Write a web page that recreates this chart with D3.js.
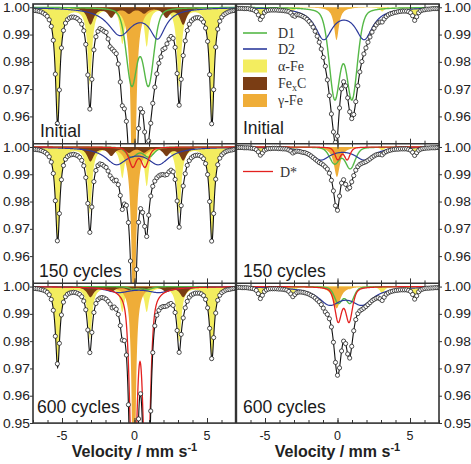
<!DOCTYPE html>
<html><head><meta charset="utf-8">
<script src="https://cdn.jsdelivr.net/npm/d3@7"></script>
<style>body{margin:0;background:#fff}svg{display:block}</style>
</head><body><svg id="c" width="471" height="464"></svg>
<script>
// ===== data =====
// panels: 0 Initial(left) 1 Initial(right) 2 150 cycles(left) 3 150 cycles(right) 4 600 cycles(left) 5 600 cycles(right)
const panelLabels = ["Initial","Initial","150 cycles","150 cycles","600 cycles","600 cycles"];
const velocityTicks = [-5,0,5];
const velocityMinor = [-7,-6,-5,-4,-3,-2,-1,0,1,2,3,4,5,6,7];
const yTicksUpper = [0.96,0.97,0.98,0.99,1.00];
const yTicksLower = [0.95,0.96,0.97,0.98,0.99,1.00];
const legendNames = ["D1","D2","α-Fe","FexC","γ-Fe","D*"];

// measured relative transmission, channels from -7 mm/s in steps of 0.14 mm/s
const velocityStart = -7, velocityStep = 0.14;
const spectrumInitialLeft = [0.9990,0.9988,0.9987,0.9985,0.9983,0.9979,0.9974,0.9967,0.9954,0.9930,0.9879,0.9755,0.9574,0.9697,0.9851,0.9915,0.9942,
 0.9955,0.9961,0.9964,0.9964,0.9962,0.9958,0.9951,0.9938,0.9914,0.9864,0.9752,0.9627,0.9736,0.9844,0.9892,0.9912,0.9922,
 0.9918,0.9912,0.9908,0.9884,0.9855,0.9847,0.9839,0.9830,0.9792,0.9726,0.9639,0.9628,0.9582,0.9467,0.9235,0.9300,0.9300,
 0.9322,0.9556,0.9628,0.9615,0.9543,0.9463,0.9510,0.9575,0.9648,0.9707,0.9756,0.9795,0.9818,0.9845,0.9850,0.9866,0.9883,
 0.9893,0.9886,0.9853,0.9757,0.9641,0.9736,0.9823,0.9877,0.9915,0.9938,0.9950,0.9957,0.9961,0.9962,0.9961,0.9956,0.9946,
 0.9924,0.9875,0.9753,0.9573,0.9698,0.9854,0.9920,0.9949,0.9964,0.9973,0.9978,0.9982,0.9985,0.9987,0.9988,0.9989];
const spectrumInitialRight = [0.9996,0.9996,0.9996,0.9996,0.9995,0.9995,0.9995,0.9993,0.9992,0.9989,0.9984,0.9972,0.9955,0.9966,0.9981,0.9987,0.9989,
 0.9990,0.9990,0.9990,0.9990,0.9989,0.9989,0.9988,0.9987,0.9986,0.9984,0.9979,0.9970,0.9967,0.9973,0.9972,0.9970,0.9966,
 0.9962,0.9956,0.9948,0.9939,0.9927,0.9912,0.9894,0.9872,0.9847,0.9816,0.9784,0.9734,0.9676,0.9609,0.9543,0.9505,0.9528,
 0.9631,0.9701,0.9727,0.9712,0.9668,0.9617,0.9592,0.9607,0.9654,0.9712,0.9763,0.9801,0.9829,0.9851,0.9872,0.9891,0.9909,
 0.9923,0.9935,0.9943,0.9946,0.9946,0.9957,0.9966,0.9972,0.9976,0.9978,0.9981,0.9982,0.9984,0.9985,0.9986,0.9986,0.9986,
 0.9984,0.9980,0.9969,0.9952,0.9965,0.9980,0.9987,0.9990,0.9991,0.9993,0.9993,0.9994,0.9995,0.9995,0.9995,0.9995];
const spectrum150Left = [0.9992,0.9991,0.9990,0.9989,0.9987,0.9984,0.9980,0.9974,0.9964,0.9945,0.9903,0.9803,0.9656,0.9756,0.9880,0.9932,0.9955,
 0.9965,0.9970,0.9972,0.9973,0.9971,0.9968,0.9962,0.9951,0.9931,0.9888,0.9793,0.9687,0.9780,0.9873,0.9914,0.9932,0.9938,
 0.9936,0.9930,0.9925,0.9912,0.9894,0.9884,0.9876,0.9878,0.9862,0.9822,0.9771,0.9791,0.9786,0.9723,0.9582,0.9277,0.9195,
 0.9551,0.9724,0.9774,0.9760,0.9709,0.9672,0.9750,0.9820,0.9856,0.9875,0.9887,0.9894,0.9898,0.9899,0.9897,0.9899,0.9909,
 0.9915,0.9909,0.9881,0.9802,0.9706,0.9785,0.9857,0.9902,0.9933,0.9950,0.9960,0.9966,0.9969,0.9970,0.9969,0.9965,0.9957,
 0.9939,0.9899,0.9800,0.9655,0.9756,0.9882,0.9935,0.9959,0.9971,0.9978,0.9983,0.9986,0.9988,0.9989,0.9991,0.9992];
const spectrum150Right = [0.9998,0.9998,0.9998,0.9998,0.9997,0.9997,0.9997,0.9996,0.9995,0.9994,0.9990,0.9982,0.9970,0.9978,0.9988,0.9992,0.9994,
 0.9994,0.9995,0.9995,0.9995,0.9994,0.9994,0.9993,0.9993,0.9992,0.9989,0.9985,0.9978,0.9982,0.9985,0.9984,0.9982,0.9980,
 0.9979,0.9976,0.9972,0.9967,0.9961,0.9955,0.9949,0.9943,0.9939,0.9934,0.9927,0.9919,0.9904,0.9878,0.9839,0.9785,0.9768,
 0.9820,0.9868,0.9880,0.9863,0.9846,0.9851,0.9872,0.9895,0.9915,0.9928,0.9936,0.9940,0.9943,0.9946,0.9951,0.9956,0.9962,
 0.9967,0.9971,0.9973,0.9973,0.9971,0.9978,0.9983,0.9986,0.9988,0.9990,0.9991,0.9992,0.9992,0.9993,0.9993,0.9993,0.9993,
 0.9991,0.9988,0.9980,0.9969,0.9979,0.9988,0.9992,0.9994,0.9995,0.9996,0.9996,0.9997,0.9997,0.9997,0.9998,0.9998];
const spectrum600Left = [0.9994,0.9993,0.9992,0.9991,0.9989,0.9987,0.9984,0.9979,0.9970,0.9953,0.9913,0.9818,0.9717,0.9792,0.9896,0.9943,0.9963,
 0.9972,0.9976,0.9978,0.9979,0.9978,0.9975,0.9971,0.9963,0.9947,0.9915,0.9841,0.9758,0.9832,0.9905,0.9938,0.9952,0.9958,
 0.9960,0.9958,0.9954,0.9946,0.9936,0.9922,0.9925,0.9917,0.9898,0.9857,0.9804,0.9802,0.9749,0.9567,0.9177,0.9300,0.9300,
 0.9120,0.9515,0.9607,0.9471,0.9173,0.9300,0.9205,0.9544,0.9758,0.9856,0.9895,0.9913,0.9923,0.9927,0.9927,0.9929,0.9935,
 0.9938,0.9931,0.9905,0.9839,0.9759,0.9825,0.9885,0.9922,0.9946,0.9961,0.9969,0.9973,0.9976,0.9976,0.9976,0.9973,0.9967,
 0.9953,0.9922,0.9847,0.9736,0.9813,0.9903,0.9950,0.9968,0.9978,0.9983,0.9987,0.9989,0.9990,0.9992,0.9993,0.9993];
const spectrum600Right = [0.9997,0.9997,0.9997,0.9996,0.9996,0.9996,0.9995,0.9994,0.9993,0.9991,0.9986,0.9974,0.9956,0.9968,0.9982,0.9988,0.9991,
 0.9992,0.9992,0.9992,0.9992,0.9991,0.9991,0.9990,0.9989,0.9987,0.9982,0.9973,0.9963,0.9971,0.9978,0.9980,0.9980,0.9979,
 0.9977,0.9975,0.9972,0.9968,0.9964,0.9958,0.9951,0.9944,0.9934,0.9921,0.9907,0.9898,0.9882,0.9852,0.9796,0.9722,0.9675,
 0.9702,0.9764,0.9800,0.9791,0.9753,0.9738,0.9781,0.9838,0.9879,0.9901,0.9911,0.9916,0.9921,0.9927,0.9934,0.9941,0.9948,
 0.9953,0.9957,0.9959,0.9955,0.9949,0.9961,0.9972,0.9977,0.9981,0.9983,0.9985,0.9986,0.9987,0.9988,0.9988,0.9988,0.9988,
 0.9986,0.9982,0.9971,0.9954,0.9966,0.9981,0.9988,0.9991,0.9993,0.9994,0.9994,0.9995,0.9995,0.9996,0.9996,0.9996];
const spectra = [spectrumInitialLeft,spectrumInitialRight,spectrum150Left,spectrum150Right,spectrum600Left,spectrum600Right];

// fitted sub-spectra: line positions (mm/s), depths, half widths
const alphaFePos = [-5.3,-3.08,-0.84,0.84,3.08,5.34];
const alphaFeDepth = [
  [0.042,0.028,0.013,0.014,0.029,0.042],
  [0.004,0.0015,0.0006,0.0006,0.0015,0.004],
  [0.034,0.024,0.011,0.014,0.024,0.034],
  [0.0028,0.0012,0.0005,0.0005,0.0012,0.0028],
  [0.029,0.019,0.009,0.009,0.02,0.026],
  [0.004,0.0025,0.001,0.001,0.0025,0.004]];
const alphaFeWidth = [0.18,0.18,0.18,0.18,0.18,0.18];
const fexCPos = [-3.04,-1.6,-0.38,0.66,2.2,3.36];
const fexCDepth = [
  [0.0062,0.0035,0.002,0.002,0.0035,0.0062],
  [0,0,0,0,0,0],
  [0.0052,0.003,0.0018,0.0018,0.003,0.0048],
  [0,0,0,0,0,0],
  [0.0038,0.0018,0.001,0.001,0.0018,0.0038],
  [0,0,0,0,0,0]];
const fexCWidth = [0.28,0.28,0.28,0.28,0.28,0.28];
const gammaFeCenter = [-0.07,-0.07,-0.05,-0.04,-0.05,-0.06];
const gammaFeDepth = [0.12,0.012,0.07,0.011,0.12,0.008];
const gammaFeWidth = [0.14,0.2,0.17,0.25,0.11,0.3];
const d1Centers = [[-0.19,0.96],[-0.19,1.0],[-0.2,0.98],[-0.2,0.88],[0.0,0.9],[0.06,0.86]];
const d1Depths = [[0.0278,0.0278],[0.0326,0.0326],[0.0036,0.0036],[0.006,0.0078],[0.001,0.001],[0.0059,0.0059]];
const d1Width = [0.44,0.45,0.44,0.4,0.4,0.33];
const d2Centers = [[-1.0,1.6],[-0.95,1.84],[-1.25,1.65],[-1.15,1.85],[-1.1,1.7],[-0.55,1.7]];
const d2Depths = [[0.0098,0.0104],[0.0112,0.0112],[0.006,0.006],[0.0045,0.0045],[0.002,0.002],[0.006,0.006]];
const d2Width = [[1.0,0.65],[0.72,0.72],[0.9,0.9],[0.8,0.8],[1.0,1.0],[0.95,0.95]];
const dStarCenters = [[],[],[-0.12,0.72],[0.02,0.67],[-0.08,0.84],[0.05,0.8]];
const dStarDepths = [[],[],[0.0071,0.0071],[0.0045,0.0045],[0.085,0.085],[0.0124,0.0124]];
const dStarWidth = [0,0,0.3,0.23,0.25,0.28];
const lorentzFraction = [1,1,1,0.3,1,0.5]; // α-Fe, FexC, γ-Fe, D1, D2, D*

// ===== line shapes =====
function pv(v,c,d,w,eta){const u=(v-c)/w;return d*(eta/(1+u*u)+(1-eta)*Math.exp(-Math.LN2*u*u));}
function lines(v,cs,ds,w,eta){let s=0;for(let i=0;i<cs.length;i++)s+=pv(v,cs[i],ds[i],Array.isArray(w)?w[i]:w,eta);return s;}
function comps(p){
  return {
    alpha:v=>lines(v,alphaFePos,alphaFeDepth[p],alphaFeWidth[p],lorentzFraction[0]),
    fexc:v=>lines(v,fexCPos,fexCDepth[p],fexCWidth[p],lorentzFraction[1]),
    gamma:v=>pv(v,gammaFeCenter[p],gammaFeDepth[p],gammaFeWidth[p],lorentzFraction[2]),
    d1:v=>lines(v,d1Centers[p],d1Depths[p],d1Width[p],lorentzFraction[3]),
    d2:v=>lines(v,d2Centers[p],d2Depths[p],d2Width[p],lorentzFraction[4]),
    ds:v=>lines(v,dStarCenters[p],dStarDepths[p],dStarWidth[p],lorentzFraction[5])
  };
}

const C={alpha:"#f3ed5f",fexc:"#7a3d14",gamma:"#efad38",d1:"#55b847",d2:"#2d3a9c",ds:"#e3211f"};
const FONT="Liberation Sans, Arial, sans-serif";
const svg=d3.select("#c");
const defs=svg.append("defs");
const colRange=[[33,236],[236,439]];
const rowTop=[4,143.7,283.3], rowH=139.7;
const vGrid=d3.range(-7,7.0001,0.02);

for(let p=0;p<6;p++){
  const col=p%2,row=Math.floor(p/2);
  const x=d3.scaleLinear().domain([-7,7]).range(colRange[col]);
  const y=d3.scaleLinear().domain([0.95,1.0012]).range([rowTop[row]+rowH,rowTop[row]]);
  const cp=comps(p);
  defs.append("clipPath").attr("id","cl"+p).append("rect")
    .attr("x",colRange[col][0]).attr("y",rowTop[row]).attr("width",colRange[col][1]-colRange[col][0]).attr("height",rowH);
  const g=svg.append("g").attr("clip-path","url(#cl"+p+")");
  const area=f=>d3.area().x(v=>x(v)).y0(y(1)).y1(v=>y(1-f(v)))(vGrid);
  const line=f=>d3.line().x(v=>x(v)).y(v=>y(1-f(v)))(vGrid);
  g.append("path").attr("d",area(cp.alpha)).attr("fill",C.alpha);
  g.append("path").attr("d",area(cp.gamma)).attr("fill",C.gamma);
  g.append("path").attr("d",area(cp.fexc)).attr("fill",C.fexc);
  g.append("path").attr("d",line(cp.d1)).attr("fill","none").attr("stroke",C.d1).attr("stroke-width",1.4);
  g.append("path").attr("d",line(cp.d2)).attr("fill","none").attr("stroke",C.d2).attr("stroke-width",1.2);
  if(dStarCenters[p].length) g.append("path").attr("d",line(cp.ds)).attr("fill","none").attr("stroke",C.ds).attr("stroke-width",1.3);
  const total=v=>cp.alpha(v)+cp.fexc(v)+cp.gamma(v)+cp.d1(v)+cp.d2(v)+cp.ds(v);
  g.append("path").attr("d",line(total)).attr("fill","none").attr("stroke","#111").attr("stroke-width",1.1);
  g.selectAll("circle").data(spectra[p]).join("circle")
    .attr("cx",(t,i)=>x(velocityStart+i*velocityStep)).attr("cy",t=>y(t)).attr("r",2.1)
    .attr("fill","#fff").attr("stroke","#222").attr("stroke-width",0.8);

  // x ticks (inward) on top and bottom of each panel
  const axB=svg.append("g").attr("transform",`translate(0,${rowTop[row]+rowH})`);
  axB.call(d3.axisBottom(x).tickValues(velocityMinor).tickSize(-3).tickFormat(""));
  axB.append("g").call(d3.axisBottom(x).tickValues(velocityTicks).tickSize(-5).tickFormat(""));
  const axT=svg.append("g").attr("transform",`translate(0,${rowTop[row]})`);
  axT.call(d3.axisTop(x).tickValues(velocityMinor).tickSize(-3).tickFormat(""));
  axT.append("g").call(d3.axisTop(x).tickValues(velocityTicks).tickSize(-5).tickFormat(""));
  svg.selectAll(".domain").remove();
  svg.selectAll(".tick line").attr("stroke","#333");
  // y ticks and labels
  const yt=row===2?yTicksLower:yTicksUpper;
  const a=svg.append("g").attr("transform",`translate(${col===0?colRange[0][0]:colRange[1][1]},0)`)
    .call((col===0?d3.axisLeft(y):d3.axisRight(y)).tickValues(yt).tickSize(3).tickFormat(""));
  a.select(".domain").remove(); a.selectAll("line").attr("stroke","#333");
  svg.append("g").selectAll("text").data(yt).join("text")
    .attr("x",col===0?30:444).attr("y",t=>y(t)+4.6).attr("text-anchor",col===0?"end":"start")
    .attr("textLength",27).attr("lengthAdjust","spacingAndGlyphs")
    .attr("font-family",FONT).attr("font-size",13).attr("fill","#222")
    .text(d3.format(".2f"));
  // panel label
  const lb=[[40,137],[243,134],[39,277],[243,277],[37,413],[243,413]][p];
  svg.append("text").attr("x",lb[0]).attr("y",lb[1]).attr("font-family",FONT)
    .attr("font-size",17.5).attr("fill","#1a1a1a").text(panelLabels[p]);
  if(row===2){
    svg.append("g").selectAll("text").data(velocityTicks).join("text")
      .attr("x",v=>x(v)).attr("y",440).attr("text-anchor","middle")
      .attr("font-family",FONT).attr("font-size",12.5).attr("fill","#222")
      .text(v=>v<0?"-"+Math.abs(v):v);
    const t=svg.append("text").attr("x",x(0)).attr("y",457).attr("text-anchor","middle")
      .attr("font-family",FONT).attr("font-weight","bold").attr("font-size",16).attr("fill","#222");
    t.append("tspan").text("Velocity / mm s");
    t.append("tspan").attr("dy",-6).attr("font-size",11).text("-1");
  }
}
// frames
svg.append("g").selectAll("line").data(rowTop.slice(1)).join("line")
  .attr("x1",33).attr("x2",439).attr("y1",d=>d).attr("y2",d=>d).attr("stroke","#333").attr("stroke-width",1.5);
svg.append("rect").attr("x",33).attr("y",rowTop[0]).attr("width",406).attr("height",rowH*3)
  .attr("fill","none").attr("stroke","#333").attr("stroke-width",1.6);
svg.append("line").attr("x1",236).attr("x2",236).attr("y1",rowTop[0]).attr("y2",rowTop[0]+rowH*3)
  .attr("stroke","#333").attr("stroke-width",2.4);

// legend
const lg=svg.append("g").attr("font-family","Liberation Serif, Times New Roman, serif").attr("font-size",14).attr("fill","#333");
[[legendNames[0],C.d1,33],[legendNames[1],C.d2,49]].forEach(([t,c,yy])=>{
  lg.append("line").attr("x1",243).attr("x2",267).attr("y1",yy).attr("y2",yy).attr("stroke",c).attr("stroke-width",1.6);
  lg.append("text").attr("x",278).attr("y",yy+5).text(t);
});
[[legendNames[2],C.alpha,59.5],[legendNames[3],C.fexc,77],[legendNames[4],C.gamma,94]].forEach(([t,c,yy])=>{
  lg.append("rect").attr("x",243).attr("y",yy).attr("width",24).attr("height",13).attr("fill",c);
  const tx=lg.append("text").attr("x",278).attr("y",yy+11);
  if(t==="FexC"){tx.append("tspan").text("Fe");tx.append("tspan").attr("dy",3).attr("font-size",10).text("x");tx.append("tspan").attr("dy",-3).text("C");}
  else tx.text(t);
});
lg.append("line").attr("x1",243).attr("x2",273).attr("y1",171.5).attr("y2",171.5).attr("stroke",C.ds).attr("stroke-width",1.3);
lg.append("text").attr("x",280).attr("y",176.5).text(legendNames[5]);
</script></body></html>
